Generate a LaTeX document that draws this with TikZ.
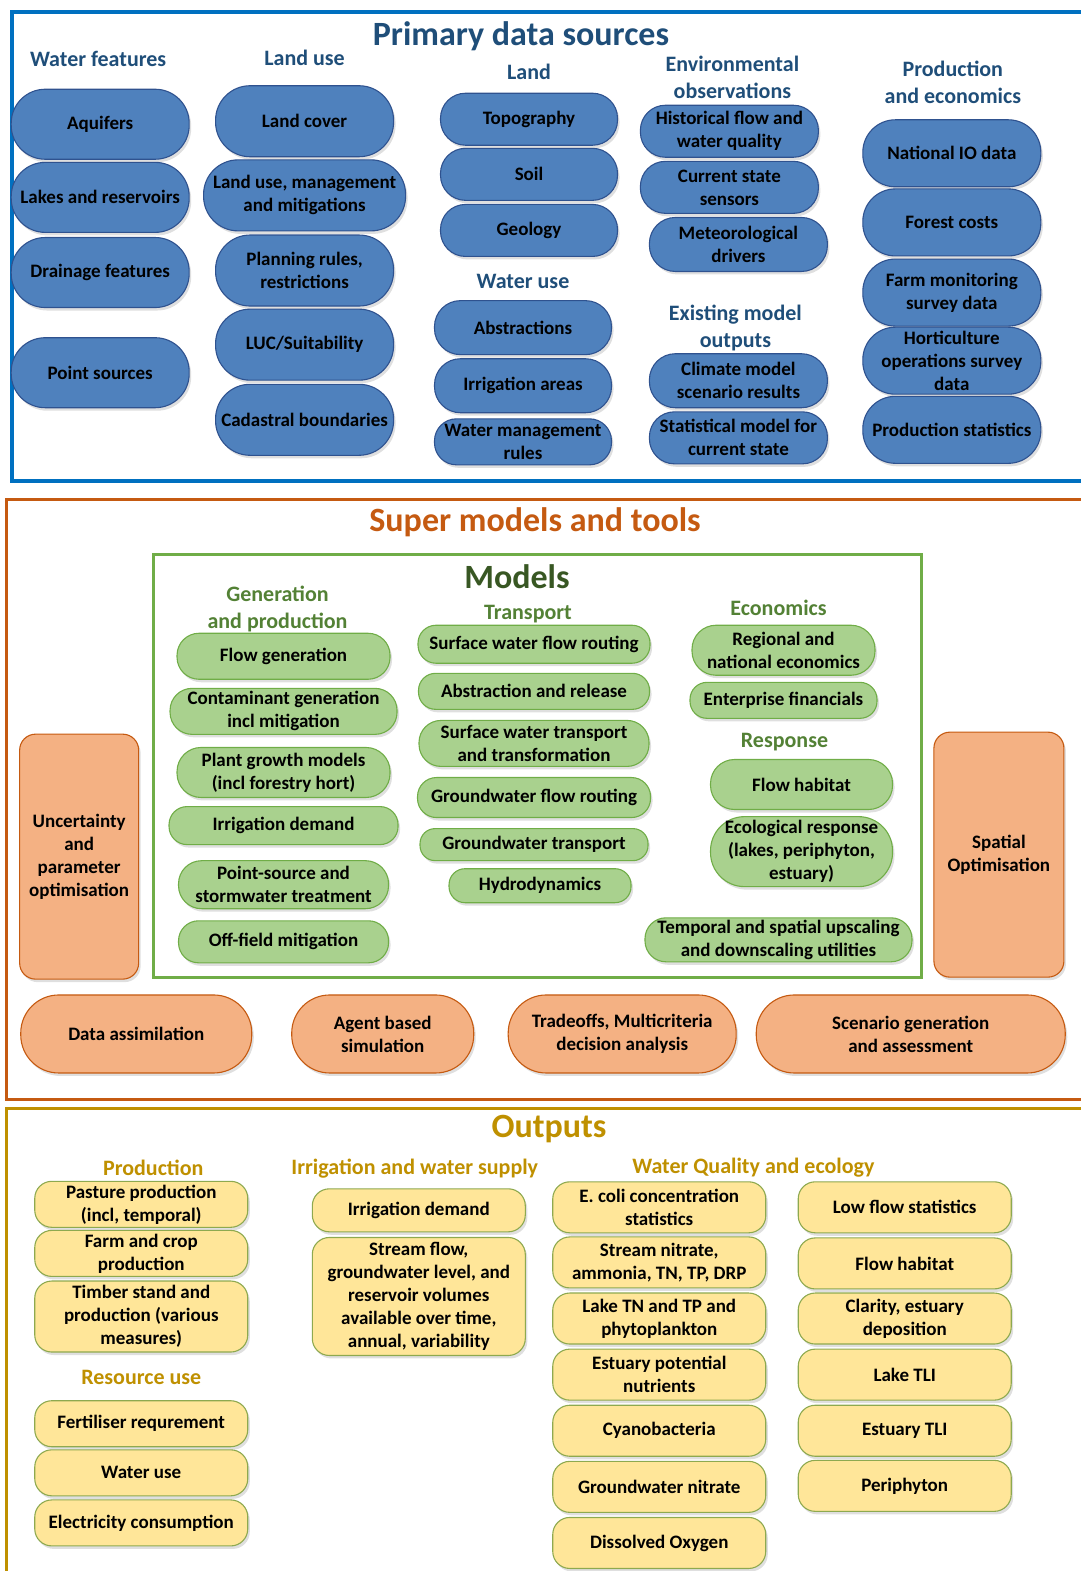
\documentclass[tikz,border=0pt]{standalone}
\usepackage{fontspec}
\setmainfont{Carlito}
\usetikzlibrary{shadows}

\definecolor{srcblue}{HTML}{4F81BD}
\definecolor{srcedge}{HTML}{2F528F}
\definecolor{headblue}{HTML}{1F4E79}
\definecolor{frameblue}{HTML}{0070C0}
\definecolor{toolorange}{HTML}{F4B183}
\definecolor{orangeedge}{HTML}{C55A11}
\definecolor{modgreen}{HTML}{A9D18E}
\definecolor{greenedge}{HTML}{70AD47}
\definecolor{headgreen}{HTML}{538135}
\definecolor{darkgreen}{HTML}{385723}
\definecolor{outyellow}{HTML}{FFE699}
\definecolor{yellowedge}{HTML}{8EA94F}
\definecolor{gold}{HTML}{BF9000}

\tikzset{
  box/.style={draw, line width=1.1pt, align=center, inner sep=1pt,
    font=\fontsize{19}{23}\selectfont\bfseries,
    drop shadow={opacity=0.25, shadow xshift=2pt, shadow yshift=-3pt}},
  pill/.style 2 args={minimum width=#1, minimum height=#2, rounded corners=#2/2-1},
  src/.style={box, fill=srcblue, draw=srcedge},
  mdl/.style={box, fill=modgreen, draw=greenedge},
  tool/.style={box, fill=toolorange, draw=orangeedge},
  outbox/.style={box, fill=outyellow, draw=yellowedge, rounded corners=17, minimum width=213, minimum height=#1},
  outbox/.default=51,
  head/.style={align=center, inner sep=0pt, font=\fontsize{22}{27}\selectfont\bfseries},
  title/.style={inner sep=0pt, font=\fontsize{34}{40}\selectfont\bfseries}
}

\begin{document}
\begin{tikzpicture}[x=1.0019pt, y=-1.0019pt]
\useasboundingbox (0,0) rectangle (1078,1568);

% primary data sources
\draw[frameblue, line width=4pt] (12,12) rectangle (1095,480);
\node[title, text=headblue] (tsrc) at (520,36) {Primary data sources};
\node[head, text=headblue] (hwater) at (98,59) {Water features};
\node[head, text=headblue] (hlanduse) at (304,58) {Land use};
\node[head, text=headblue] (hland) at (528,72) {Land};
\node[head, text=headblue] (henv) at (731,77) {Environmental\\observations};
\node[head, text=headblue] (hwateruse) at (522,281) {Water use};
\node[head, text=headblue] (hexist) at (734,327) {Existing model\\outputs};
\node[head, text=headblue] (hprod) at (951,82) {Production\\and economics};

\node[src, pill={178}{70}] (aquifers) at (100,124) {Aquifers};
\node[src, pill={178}{70}] (lakes) at (100,197) {Lakes and reservoirs};
\node[src, pill={178}{70}] (drainage) at (100,272) {Drainage features};
\node[src, pill={178}{70}] (point) at (100,372) {Point sources};

\node[src, pill={178}{71}] (cover) at (304,121) {Land cover};
\node[src, pill={202}{71}] (mgmt) at (304,195) {Land use, management\\and mitigations};
\node[src, pill={178}{71}] (planning) at (304,270) {Planning rules,\\restrictions};
\node[src, pill={178}{71}] (luc) at (304,344) {LUC/Suitability};
\node[src, pill={178}{71}] (cadastral) at (304,419) {Cadastral boundaries};

\node[src, pill={177}{52}] (topo) at (528,119) {Topography};
\node[src, pill={177}{52}] (soil) at (528,174) {Soil};
\node[src, pill={177}{52}] (geology) at (528,230) {Geology};
\node[src, pill={177}{54}] (abstr) at (522,327) {Abstractions};
\node[src, pill={177}{54}] (irrareas) at (522,385) {Irrigation areas};
\node[src, pill={177}{46}] (wmrules) at (522,441) {Water management\\rules};

\node[src, pill={178}{52}] (histflow) at (728,131) {Historical flow and\\water quality};
\node[src, pill={178}{52}] (sensors) at (728,187) {Current state\\sensors};
\node[src, pill={178}{54}] (meteo) at (737,244) {Meteorological\\drivers};
\node[src, pill={178}{54}] (climate) at (737,380) {Climate model\\scenario results};
\node[src, pill={178}{52}] (statmodel) at (737,437) {Statistical model for\\current state};

\node[src, pill={178}{67}] (nationalio) at (950,153) {National IO data};
\node[src, pill={178}{67}] (forest) at (950,222) {Forest costs};
\node[src, pill={178}{67}] (farmsurvey) at (950,292) {Farm monitoring\\survey data};
\node[src, pill={178}{67}] (horti) at (950,360) {Horticulture\\operations survey\\data};
\node[src, pill={178}{67}] (prodstats) at (950,429) {Production statistics};

% super models and tools
\draw[orangeedge, line width=3pt] (6,499) rectangle (1095,1097);
\node[title, text=orangeedge] (tsuper) at (534,521) {Super models and tools};
\draw[greenedge, line width=3pt] (153,553) rectangle (920,976);
\node[title, text=darkgreen] (tmodels) at (516,576) {Models};
\node[head, text=headgreen] (hgen) at (277,608) {Generation\\and production};
\node[head, text=headgreen] (htransport) at (527,613) {Transport};
\node[head, text=headgreen] (hecon) at (777,607) {Economics};
\node[head, text=headgreen] (hresponse) at (783,741) {Response};

\node[mdl, pill={213}{46}] (flowgen) at (283,655) {Flow generation};
\node[mdl, pill={227}{46}] (contam) at (283,710) {Contaminant generation\\incl mitigation};
\node[mdl, pill={213}{50}] (plant) at (283,771) {Plant growth models\\(incl forestry hort)};
\node[mdl, pill={229}{38}] (irrdemand) at (283,824) {Irrigation demand};
\node[mdl, pill={210}{48}] (pointsrc) at (283,883) {Point-source and\\stormwater treatment};
\node[mdl, pill={210}{42}] (offfield) at (283,940) {Off-field mitigation};

\node[mdl, pill={232}{38}] (swrouting) at (533,643) {Surface water flow routing};
\node[mdl, pill={231}{36}] (release) at (533,690) {Abstraction and release};
\node[mdl, pill={230}{46}] (swtransport) at (533,742) {Surface water transport\\and transformation};
\node[mdl, pill={233}{40}] (gwrouting) at (533,796) {Groundwater flow routing};
\node[mdl, pill={228}{32}] (gwtransport) at (533,843) {Groundwater transport};
\node[mdl, pill={182}{34}] (hydro) at (539,884) {Hydrodynamics};

\node[mdl, pill={183}{50}] (regional) at (782,649) {Regional and\\national economics};
\node[mdl, pill={187}{36}] (enterprise) at (782,699) {Enterprise financials};
\node[mdl, pill={182}{50}] (habitat) at (800,783) {Flow habitat};
\node[mdl, pill={182}{70}] (ecoresp) at (800,850) {Ecological response\\(lakes, periphyton,\\estuary)};
\node[mdl, pill={267}{44}] (scaling) at (777,938) {Temporal and spatial upscaling\\and downscaling utilities};

\node[tool, minimum width=119, minimum height=245, rounded corners=16] (uncert) at (79,855) {Uncertainty\\and\\parameter\\optimisation};
\node[tool, minimum width=130, minimum height=245, rounded corners=16] (spatial) at (997,853) {Spatial\\Optimisation};
\node[tool, pill={231}{78}] (assim) at (136,1032) {Data assimilation};
\node[tool, pill={182}{78}] (agent) at (382,1032) {Agent based\\simulation};
\node[tool, pill={228}{78}] (tradeoffs) at (621,1032) {Tradeoffs, Multicriteria\\decision analysis};
\node[tool, pill={309}{78}] (scenario) at (909,1032) {Scenario generation\\and assessment};

% outputs
\draw[gold, line width=3pt] (6,1106) rectangle (1095,1590);
\node[title, text=gold] (toutputs) at (548,1127) {Outputs};
\node[head, text=gold] (hproduction) at (153,1166) {Production};
\node[head, text=gold] (hirrig) at (414,1166) {Irrigation and water supply};
\node[head, text=gold] (hquality) at (752,1165) {Water Quality and ecology};
\node[head, text=gold] (hresource) at (141,1375) {Resource use};

\node[outbox=46] (pasture) at (141,1202) {Pasture production\\(incl, temporal)};
\node[outbox=46] (farmcrop) at (141,1251) {Farm and crop\\production};
\node[outbox=71] (timber) at (141,1314) {Timber stand and\\production (various\\measures)};
\node[outbox=46] (fertiliser) at (141,1421) {Fertiliser requrement};
\node[outbox=46] (wateruse) at (141,1470) {Water use};
\node[outbox=46] (electricity) at (141,1520) {Electricity consumption};

\node[outbox=43] (outirrig) at (418,1208) {Irrigation demand};
\node[outbox=118] (streamflow) at (418,1294) {Stream flow,\\groundwater level, and\\reservoir volumes\\available over time,\\annual, variability};

\node[outbox] (ecoli) at (658,1205) {E. coli concentration\\statistics};
\node[outbox] (nitrate) at (658,1260) {Stream nitrate,\\ammonia, TN, TP, DRP};
\node[outbox] (laketn) at (658,1316) {Lake TN and TP and\\phytoplankton};
\node[outbox] (estnutr) at (658,1372) {Estuary potential\\nutrients};
\node[outbox] (cyano) at (658,1428) {Cyanobacteria};
\node[outbox] (gwnitrate) at (658,1484) {Groundwater nitrate};
\node[outbox] (oxygen) at (658,1540) {Dissolved Oxygen};

\node[outbox] (lowflow) at (903,1205) {Low flow statistics};
\node[outbox] (outhabitat) at (903,1261) {Flow habitat};
\node[outbox] (clarity) at (903,1316) {Clarity, estuary\\deposition};
\node[outbox] (laketli) at (903,1372) {Lake TLI};
\node[outbox] (esttli) at (903,1428) {Estuary TLI};
\node[outbox] (periphyton) at (903,1483) {Periphyton};
\end{tikzpicture}
\end{document}
